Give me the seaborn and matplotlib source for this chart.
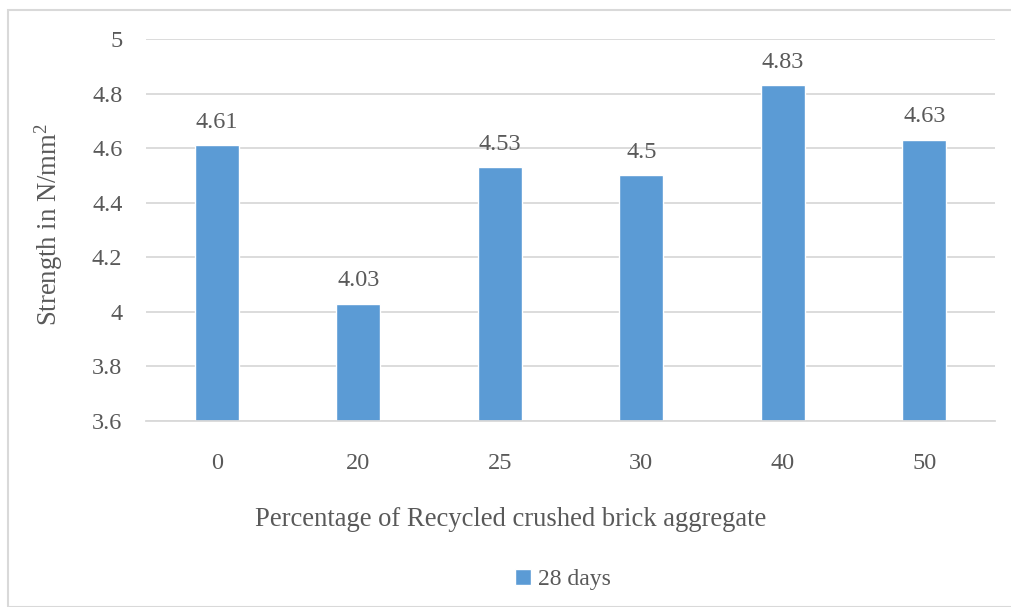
import matplotlib
matplotlib.use("Agg")
import matplotlib.pyplot as plt
import seaborn as sns
import pandas as pd
from matplotlib.patches import Rectangle

# Compressive strength at 28 days for each brick-aggregate replacement level
percentages = ["0", "20", "25", "30", "40", "50"]
strength = [4.61, 4.03, 4.53, 4.50, 4.83, 4.63]
value_labels = ["4.61", "4.03", "4.53", "4.5", "4.83", "4.63"]
y_ticks = [3.6, 3.8, 4.0, 4.2, 4.4, 4.6, 4.8, 5.0]
y_tick_labels = ["3.6", "3.8", "4", "4.2", "4.4", "4.6", "4.8", "5"]
series_name = "28 days"

df = pd.DataFrame({"pct": percentages, "strength": strength})

sns.set_theme(style="white")
plt.rcParams["font.family"] = ["Liberation Serif", "DejaVu Serif"]
plt.rcParams["mathtext.fontset"] = "custom"
plt.rcParams["mathtext.rm"] = "Liberation Serif"
plt.rcParams["mathtext.it"] = "Liberation Serif:italic"

text_color = "#595959"
grid_color = "#D9D9D9"
bar_color = "#5B9BD5"
tick_size = 17.5
title_size = 19.2

fig = plt.figure(figsize=(10.11, 6.07), dpi=100)
ax = fig.add_axes([0.1444, 0.3064, 0.8398, 0.6294])

sns.barplot(data=df, x="pct", y="strength", color=bar_color, width=0.31,
            saturation=1, ax=ax, label=series_name, zorder=3)

ax.set_ylim(3.6, 5.0)
ax.set_xlim(-0.5, len(percentages) - 0.5)
ax.set_yticks(y_ticks)
ax.set_yticklabels(y_tick_labels)
ax.yaxis.grid(True, color=grid_color, linewidth=1.3, zorder=0)
ax.set_axisbelow(True)

for side in ["top", "right", "left"]:
    ax.spines[side].set_visible(False)
ax.spines["bottom"].set_color(grid_color)
ax.spines["bottom"].set_linewidth(1.3)
ax.spines["bottom"].set_zorder(4)

ax.tick_params(axis="y", length=0, pad=17, labelsize=tick_size, labelcolor=text_color)
ax.tick_params(axis="x", length=0, pad=23, labelsize=tick_size, labelcolor=text_color)

ax.bar_label(ax.containers[0], labels=value_labels, padding=9,
             fontsize=tick_size, color=text_color)

ax.set_xlabel("Percentage of Recycled crushed brick aggregate",
              fontsize=title_size, color=text_color)
ax.set_ylabel(r"Strength in N/mm$^{2}$", fontsize=title_size,
              color=text_color)
ax.xaxis.set_label_coords(0.43, -0.225)
ax.yaxis.set_label_coords(-0.095, 0.515)

leg = ax.legend(loc="center", bbox_to_anchor=(0.557, 0.045),
                bbox_transform=fig.transFigure, frameon=False,
                fontsize=17, handlelength=0.65, handleheight=0.65,
                handletextpad=0.3)
for t in leg.get_texts():
    t.set_color(text_color)

# Light frame around the whole chart area
fig.patches.append(Rectangle((8 / 1011, 0.0), 1.0, 1 - 10 / 607,
                             transform=fig.transFigure, fill=False,
                             edgecolor=grid_color, linewidth=1.5))

fig.savefig("out.png", dpi=100)
